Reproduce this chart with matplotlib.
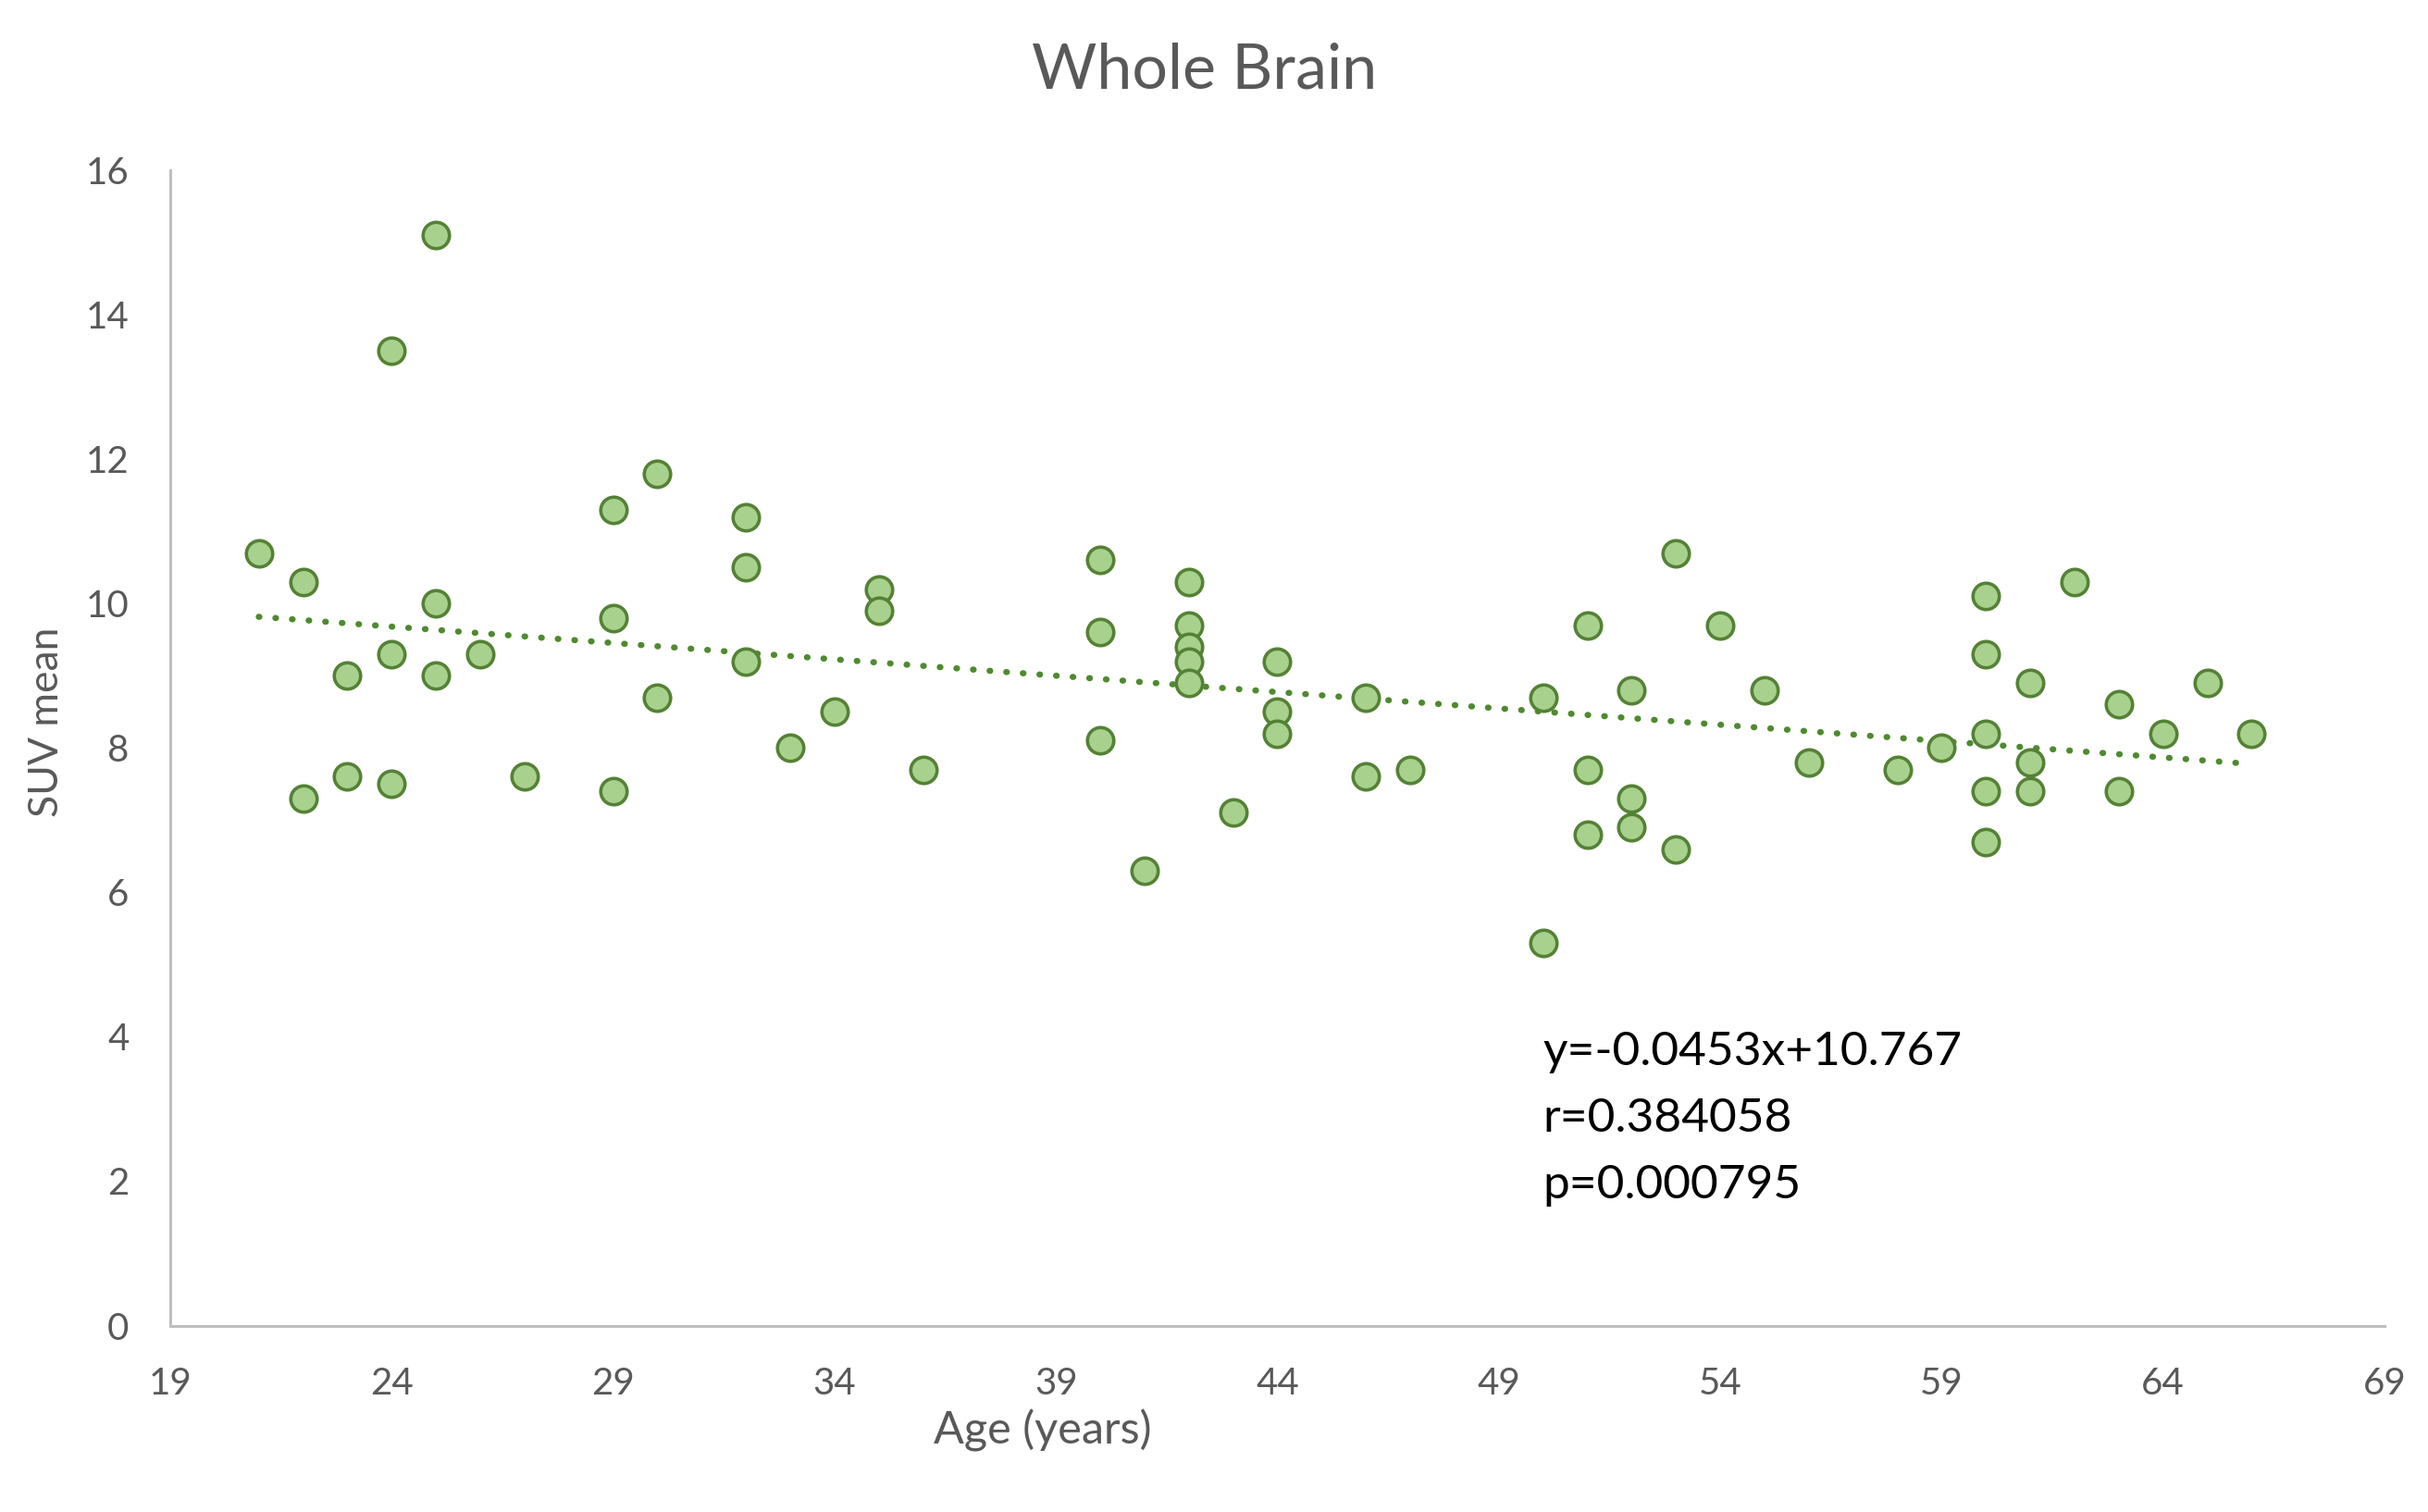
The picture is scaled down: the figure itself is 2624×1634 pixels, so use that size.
import numpy as np
import matplotlib
matplotlib.use("Agg")
import matplotlib.pyplot as plt

# Age (years) and whole-brain SUV mean
ages = [21, 22, 22, 23, 23, 24, 24, 24, 25, 25, 25, 26, 27, 29, 29, 29, 30, 30,
        32, 32, 32, 33, 34, 35, 35, 36,
        40, 40, 40, 41, 42, 42, 42, 42, 42, 43, 44, 44, 44, 46, 46, 47,
        50, 50, 51, 51, 51, 52, 52, 52, 53, 53,
        54, 55, 56, 58, 59, 60, 60, 60, 60, 60, 61, 61, 61, 62, 63, 63, 64, 65, 66]
suv = [10.7, 10.3, 7.3, 9.0, 7.6, 13.5, 9.3, 7.5, 15.1, 10.0, 9.0, 9.3, 7.6, 11.3, 9.8, 7.4, 11.8, 8.7,
       11.2, 10.5, 9.2, 8.0, 8.5, 10.2, 9.9, 7.7,
       10.6, 9.6, 8.1, 6.3, 10.3, 9.7, 9.4, 9.2, 8.9, 7.1, 9.2, 8.5, 8.2, 8.7, 7.6, 7.7,
       8.7, 5.3, 9.7, 7.7, 6.8, 8.8, 7.3, 6.9, 10.7, 6.6,
       9.7, 8.8, 7.8, 7.7, 8.0, 10.1, 9.3, 8.2, 7.4, 6.7, 8.9, 7.8, 7.4, 10.3, 8.6, 7.4, 8.2, 8.9, 8.2]

# trendline as printed on the chart
slope = -0.0453
intercept = 10.767
r_value = 0.384058
p_value = 0.000795

x_ticks = list(range(19, 70, 5))
y_ticks = list(range(0, 17, 2))

plt.rcParams['font.family'] = ['Lato', 'DejaVu Sans']
gray = '#595959'

fig = plt.figure(figsize=(13.12, 8.17), dpi=200)
ax = fig.add_axes([0.0701, 0.1233, 0.912, 0.7641])

ax.scatter(ages, suv, s=105, facecolor='#A9D18E', edgecolor='#548235',
           linewidth=1.3, zorder=3)

# linear trendline across the range of ages
xs = np.array([min(ages), max(ages)])
ax.plot(xs, slope * xs + intercept, color='#4E8A2E', linewidth=2.4,
        linestyle=(0, (0.1, 2.6)), dash_capstyle='round', zorder=2)

ax.set_xlim(19, 69)
ax.set_ylim(0, 16)
ax.set_xticks(x_ticks)
ax.set_yticks(y_ticks)
ax.tick_params(length=0, labelsize=14.5, labelcolor=gray)
ax.tick_params(axis='x', pad=16)
ax.tick_params(axis='y', pad=16)

for side in ['top', 'right']:
    ax.spines[side].set_visible(False)
for side in ['left', 'bottom']:
    ax.spines[side].set_color('#BFBFBF')
    ax.spines[side].set_linewidth(1.1)

ax.set_xlabel('Age (years)', fontsize=17.5, color=gray)
ax.xaxis.set_label_coords(0.394, -0.072)
ax.set_ylabel('SUV mean', fontsize=16, color=gray)
ax.yaxis.set_label_coords(-0.047, 0.5226)

fig.text(0.4962, 0.953, 'Whole Brain', fontsize=24.5, color=gray,
         ha='center', va='center')

ax.text(50.0, 2.86,
        f'y={slope}x+{intercept}\nr={r_value}\np={p_value:.6f}',
        fontsize=18.5, color='black', ha='left', va='center', linespacing=1.7)

fig.savefig('out.png', dpi=200)
